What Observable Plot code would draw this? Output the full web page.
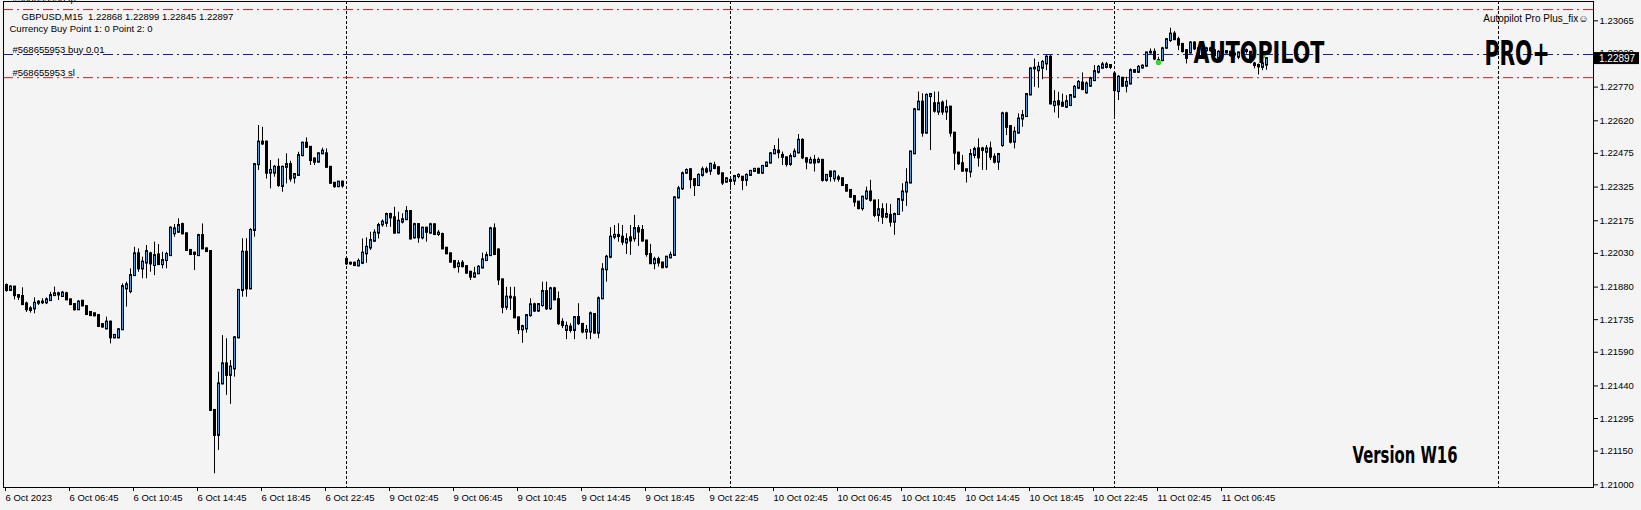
<!DOCTYPE html>
<html>
<head>
<meta charset="utf-8">
<script src="https://cdn.jsdelivr.net/npm/d3@7"></script>
<script src="https://cdn.jsdelivr.net/npm/@observablehq/plot@0.6"></script>
<style>
  html, body { margin: 0; padding: 0; background: #f4f4f4; }
  #chart svg { display: block; }
</style>
</head>
<body>
<div id="chart"></div>
<script>
// ---- Data: GBPUSD M15 candles (bar index 0 = 6 Oct 2023 02:45) ----
const open = [
1.21887,1.21865,1.21880,1.21842,1.21838,1.21805,1.21776,1.21783,1.21808,1.21813,
1.21810,1.21820,1.21842,1.21850,1.21838,1.21850,1.21823,1.21802,1.21779,1.21817,
1.21793,1.21767,1.21761,1.21753,1.21713,1.21694,1.21724,1.21654,1.21654,1.21690,
1.21872,1.21860,1.21931,1.22028,1.21961,1.21987,1.22028,1.21976,1.22023,1.21980,
1.21998,1.22020,1.22117,1.22124,1.22158,1.22117,1.22043,1.22025,1.22020,1.22109,
1.22050,1.22038,1.21331,1.21220,1.21449,1.21538,1.21487,1.21516,1.21654,1.21865,
1.22035,1.21872,1.22132,1.22425,1.22525,1.22525,1.22387,1.22387,1.22413,1.22328,
1.22413,1.22425,1.22365,1.22377,1.22465,1.22520,1.22502,1.22450,1.22436,1.22473,
1.22473,1.22413,1.22342,1.22327,1.22347,1.22003,1.21983,1.21986,1.21974,1.21986,
1.22028,1.22054,1.22084,1.22120,1.22157,1.22164,1.22203,1.22188,1.22121,1.22169,
1.22180,1.22216,1.22099,1.22158,1.22099,1.22142,1.22120,1.22157,1.22114,1.22114,
1.22053,1.22028,1.21994,1.21971,1.21986,1.21971,1.21946,1.21924,1.21939,1.21965,
1.21998,1.22020,1.22139,1.22045,1.21912,1.21790,1.21835,1.21832,1.21743,1.21690,
1.21694,1.21753,1.21801,1.21773,1.21798,1.21860,1.21783,1.21872,1.21824,1.21723,
1.21687,1.21702,1.21687,1.21744,1.21714,1.21680,1.21680,1.21758,1.21675,1.21828,
1.21957,1.22013,1.22102,1.22110,1.22102,1.22076,1.22099,1.22095,1.22140,1.22132,
1.22085,1.22025,1.21984,1.22002,1.21987,1.21969,1.22010,1.22021,1.22277,1.22317,
1.22387,1.22402,1.22358,1.22332,1.22377,1.22402,1.22396,1.22420,1.22411,1.22384,
1.22347,1.22355,1.22352,1.22372,1.22369,1.22355,1.22377,1.22395,1.22404,1.22387,
1.22417,1.22432,1.22473,1.22485,1.22466,1.22455,1.22426,1.22461,1.22477,1.22533,
1.22451,1.22432,1.22444,1.22436,1.22444,1.22355,1.22392,1.22362,1.22366,1.22362,
1.22332,1.22310,1.22283,1.22258,1.22229,1.22273,1.22303,1.22263,1.22199,1.22224,
1.22191,1.22199,1.22169,1.22203,1.22266,1.22303,1.22343,1.22473,1.22669,1.22703,
1.22565,1.22728,1.22696,1.22659,1.22699,1.22659,1.22681,1.22565,1.22476,1.22429,
1.22396,1.22392,1.22466,1.22495,1.22488,1.22480,1.22495,1.22458,1.22436,1.22510,
1.22651,1.22594,1.22525,1.22565,1.22628,1.22639,1.22735,1.22851,1.22843,1.22854,
1.22873,1.22903,1.22688,1.22705,1.22698,1.22680,1.22688,1.22725,1.22765,1.22788,
1.22744,1.22774,1.22799,1.22836,1.22854,1.22858,1.22866,1.22828,1.22750,1.22809,
1.22774,1.22784,1.22843,1.22836,1.22855,1.22863,1.22922,1.22925,1.22888,1.22888,
1.22943,1.22977,1.23006,1.22981,1.22960,1.22932,1.22922,1.22966,1.22910,1.22940,
1.22932,1.22940,1.22932,1.22898,1.22925,1.22928,1.22925,1.22913,1.22903,1.22922,
1.22928,1.22925,1.22873,1.22866,1.22858,1.22868];
const high = [
1.21894,1.21887,1.21880,1.21846,1.21877,1.21813,1.21793,1.21832,1.21820,1.21828,
1.21832,1.21857,1.21880,1.21857,1.21860,1.21857,1.21826,1.21805,1.21820,1.21820,
1.21796,1.21770,1.21764,1.21756,1.21716,1.21746,1.21728,1.21668,1.21694,1.21894,
1.21902,1.21961,1.22057,1.22050,1.22013,1.22065,1.22035,1.22080,1.22069,1.22035,
1.22035,1.22148,1.22158,1.22184,1.22165,1.22120,1.22046,1.22035,1.22115,1.22161,
1.22053,1.22041,1.21335,1.21501,1.21664,1.21650,1.21553,1.21660,1.21870,1.22095,
1.22095,1.22140,1.22430,1.22599,1.22591,1.22530,1.22443,1.22421,1.22450,1.22418,
1.22473,1.22440,1.22385,1.22480,1.22525,1.22544,1.22505,1.22455,1.22477,1.22498,
1.22495,1.22416,1.22345,1.22350,1.22352,1.22013,1.21991,1.21991,1.22005,1.22094,
1.22099,1.22124,1.22135,1.22164,1.22179,1.22209,1.22209,1.22235,1.22213,1.22206,
1.22238,1.22220,1.22164,1.22161,1.22146,1.22146,1.22164,1.22161,1.22132,1.22120,
1.22055,1.22031,1.21997,1.21998,1.21998,1.21975,1.21950,1.21968,1.21976,1.22031,
1.22035,1.22146,1.22161,1.22050,1.21915,1.21879,1.21879,1.21879,1.21746,1.21710,
1.21758,1.21828,1.21808,1.21806,1.21902,1.21902,1.21879,1.21879,1.21858,1.21739,
1.21724,1.21717,1.21749,1.21806,1.21717,1.21709,1.21769,1.21761,1.21836,1.21984,
1.22021,1.22144,1.22154,1.22162,1.22154,1.22117,1.22154,1.22199,1.22154,1.22154,
1.22088,1.22070,1.22013,1.22013,1.21990,1.22016,1.22036,1.22282,1.22328,1.22392,
1.22406,1.22406,1.22361,1.22384,1.22414,1.22414,1.22432,1.22436,1.22414,1.22387,
1.22366,1.22366,1.22377,1.22384,1.22372,1.22384,1.22399,1.22406,1.22409,1.22420,
1.22436,1.22478,1.22510,1.22540,1.22481,1.22460,1.22473,1.22495,1.22559,1.22540,
1.22455,1.22458,1.22466,1.22455,1.22448,1.22381,1.22396,1.22396,1.22377,1.22366,
1.22336,1.22313,1.22286,1.22261,1.22284,1.22325,1.22355,1.22266,1.22269,1.22251,
1.22251,1.22248,1.22209,1.22273,1.22340,1.22407,1.22485,1.22675,1.22748,1.22740,
1.22740,1.22740,1.22748,1.22748,1.22708,1.22711,1.22684,1.22568,1.22480,1.22466,
1.22405,1.22492,1.22503,1.22540,1.22502,1.22510,1.22525,1.22473,1.22475,1.22658,
1.22658,1.22597,1.22591,1.22651,1.22666,1.22740,1.22855,1.22895,1.22880,1.22888,
1.22910,1.22910,1.22754,1.22747,1.22739,1.22732,1.22735,1.22777,1.22799,1.22833,
1.22794,1.22814,1.22866,1.22866,1.22880,1.22880,1.22866,1.22836,1.22821,1.22814,
1.22814,1.22851,1.22848,1.22866,1.22869,1.22925,1.22940,1.22940,1.22903,1.22947,
1.22984,1.23032,1.23017,1.22992,1.22963,1.22935,1.22972,1.22972,1.22947,1.22947,
1.22947,1.22947,1.22940,1.22932,1.22932,1.22932,1.22930,1.22925,1.22925,1.22940,
1.22940,1.22928,1.22880,1.22873,1.22880,1.22899];
const low = [
1.21857,1.21862,1.21823,1.21820,1.21798,1.21767,1.21764,1.21761,1.21798,1.21802,
1.21802,1.21817,1.21838,1.21820,1.21835,1.21820,1.21798,1.21773,1.21776,1.21793,
1.21753,1.21750,1.21748,1.21700,1.21698,1.21690,1.21627,1.21650,1.21650,1.21687,
1.21791,1.21850,1.21928,1.21946,1.21917,1.21917,1.21946,1.21931,1.21976,1.21961,
1.21961,1.22016,1.22102,1.22120,1.22112,1.22040,1.22020,1.21954,1.22016,1.22046,
1.22034,1.21328,1.21049,1.21153,1.21445,1.21398,1.21358,1.21479,1.21650,1.21835,
1.21835,1.21868,1.22102,1.22399,1.22510,1.22361,1.22317,1.22369,1.22324,1.22302,
1.22339,1.22347,1.22339,1.22373,1.22460,1.22498,1.22421,1.22421,1.22432,1.22470,
1.22410,1.22338,1.22320,1.22322,1.22320,1.21976,1.21976,1.21971,1.21971,1.21980,
1.21986,1.22043,1.22080,1.22094,1.22146,1.22146,1.22146,1.22117,1.22120,1.22161,
1.22176,1.22090,1.22094,1.22075,1.22090,1.22080,1.22117,1.22109,1.22105,1.22046,
1.22025,1.21988,1.21961,1.21942,1.21965,1.21938,1.21909,1.21921,1.21936,1.21961,
1.21995,1.22016,1.22020,1.21887,1.21761,1.21776,1.21776,1.21740,1.21669,1.21630,
1.21675,1.21746,1.21768,1.21768,1.21790,1.21776,1.21776,1.21820,1.21709,1.21695,
1.21646,1.21675,1.21646,1.21709,1.21672,1.21646,1.21646,1.21672,1.21650,1.21824,
1.21902,1.22006,1.22091,1.22080,1.22065,1.22025,1.22021,1.22080,1.22061,1.22080,
1.22013,1.21981,1.21957,1.21969,1.21962,1.21962,1.22006,1.22016,1.22272,1.22310,
1.22381,1.22317,1.22283,1.22328,1.22369,1.22384,1.22377,1.22402,1.22377,1.22332,
1.22343,1.22310,1.22332,1.22362,1.22310,1.22328,1.22372,1.22392,1.22384,1.22381,
1.22414,1.22428,1.22470,1.22451,1.22421,1.22414,1.22417,1.22455,1.22473,1.22447,
1.22402,1.22429,1.22392,1.22429,1.22347,1.22347,1.22347,1.22347,1.22347,1.22328,
1.22303,1.22276,1.22236,1.22224,1.22218,1.22266,1.22258,1.22189,1.22169,1.22159,
1.22184,1.22147,1.22110,1.22199,1.22214,1.22239,1.22340,1.22470,1.22666,1.22547,
1.22562,1.22488,1.22654,1.22644,1.22644,1.22622,1.22547,1.22399,1.22421,1.22392,
1.22343,1.22366,1.22451,1.22414,1.22399,1.22399,1.22443,1.22428,1.22399,1.22502,
1.22554,1.22517,1.22495,1.22562,1.22591,1.22636,1.22732,1.22769,1.22765,1.22803,
1.22843,1.22691,1.22655,1.22631,1.22680,1.22676,1.22685,1.22720,1.22759,1.22754,
1.22739,1.22769,1.22794,1.22828,1.22851,1.22851,1.22848,1.22640,1.22710,1.22769,
1.22744,1.22780,1.22833,1.22831,1.22851,1.22860,1.22917,1.22888,1.22873,1.22883,
1.22940,1.22969,1.22977,1.22932,1.22922,1.22873,1.22917,1.22932,1.22898,1.22898,
1.22925,1.22925,1.22906,1.22895,1.22913,1.22917,1.22903,1.22898,1.22892,1.22917,
1.22917,1.22873,1.22851,1.22824,1.22843,1.22845];
const close = [
1.21865,1.21880,1.21842,1.21835,1.21802,1.21779,1.21783,1.21808,1.21813,1.21810,
1.21823,1.21842,1.21850,1.21845,1.21853,1.21823,1.21802,1.21779,1.21813,1.21796,
1.21758,1.21753,1.21752,1.21705,1.21702,1.21724,1.21654,1.21665,1.21690,1.21882,
1.21890,1.21931,1.22028,1.21961,1.21991,1.22038,1.21983,1.22020,1.21980,1.21998,
1.22025,1.22142,1.22139,1.22154,1.22117,1.22043,1.22025,1.22031,1.22109,1.22050,
1.22038,1.21331,1.21220,1.21449,1.21538,1.21487,1.21524,1.21654,1.21865,1.22035,
1.21872,1.22132,1.22425,1.22525,1.22517,1.22387,1.22399,1.22413,1.22332,1.22413,
1.22425,1.22361,1.22381,1.22465,1.22520,1.22502,1.22443,1.22436,1.22473,1.22485,
1.22413,1.22342,1.22327,1.22347,1.22330,1.21983,1.21986,1.21976,1.21994,1.22031,
1.22057,1.22087,1.22120,1.22154,1.22169,1.22203,1.22188,1.22120,1.22173,1.22180,
1.22216,1.22094,1.22158,1.22099,1.22142,1.22124,1.22157,1.22114,1.22120,1.22050,
1.22028,1.21991,1.21968,1.21983,1.21971,1.21942,1.21924,1.21939,1.21968,1.22001,
1.22020,1.22139,1.22025,1.21912,1.21790,1.21835,1.21832,1.21743,1.21690,1.21704,
1.21753,1.21801,1.21773,1.21802,1.21860,1.21783,1.21872,1.21823,1.21717,1.21709,
1.21705,1.21687,1.21744,1.21717,1.21680,1.21687,1.21761,1.21675,1.21828,1.21957,
1.22013,1.22102,1.22110,1.22105,1.22080,1.22091,1.22085,1.22140,1.22125,1.22085,
1.22025,1.21984,1.22002,1.21987,1.21966,1.22013,1.22021,1.22277,1.22317,1.22384,
1.22399,1.22358,1.22332,1.22377,1.22402,1.22392,1.22426,1.22408,1.22384,1.22343,
1.22362,1.22350,1.22372,1.22377,1.22355,1.22377,1.22395,1.22404,1.22387,1.22417,
1.22432,1.22473,1.22488,1.22478,1.22458,1.22426,1.22461,1.22481,1.22533,1.22455,
1.22436,1.22444,1.22432,1.22444,1.22355,1.22377,1.22372,1.22392,1.22360,1.22332,
1.22307,1.22280,1.22258,1.22229,1.22280,1.22303,1.22266,1.22199,1.22224,1.22191,
1.22203,1.22169,1.22203,1.22269,1.22303,1.22343,1.22481,1.22669,1.22703,1.22565,
1.22733,1.22737,1.22663,1.22696,1.22659,1.22678,1.22565,1.22476,1.22429,1.22396,
1.22402,1.22470,1.22492,1.22455,1.22495,1.22495,1.22458,1.22436,1.22470,1.22651,
1.22591,1.22525,1.22569,1.22628,1.22643,1.22737,1.22851,1.22854,1.22858,1.22880,
1.22903,1.22695,1.22702,1.22691,1.22685,1.22705,1.22732,1.22769,1.22791,1.22759,
1.22784,1.22806,1.22839,1.22858,1.22869,1.22869,1.22858,1.22754,1.22814,1.22774,
1.22791,1.22843,1.22836,1.22858,1.22863,1.22922,1.22925,1.22895,1.22885,1.22940,
1.22981,1.23006,1.22981,1.22957,1.22928,1.22898,1.22966,1.22940,1.22940,1.22903,
1.22940,1.22932,1.22910,1.22925,1.22928,1.22922,1.22910,1.22917,1.22922,1.22928,
1.22932,1.22880,1.22866,1.22860,1.22873,1.22897];

// time axis labels (one every 16 bars)
const xTickBars = [0,16,32,48,64,80,96,112,128,144,160,176,192,208,224,240,256,272,288,304];
const xTickLabels = ["6 Oct 2023","6 Oct 06:45","6 Oct 10:45","6 Oct 14:45","6 Oct 18:45","6 Oct 22:45",
  "9 Oct 02:45","9 Oct 06:45","9 Oct 10:45","9 Oct 14:45","9 Oct 18:45","9 Oct 22:45",
  "10 Oct 02:45","10 Oct 06:45","10 Oct 10:45","10 Oct 14:45","10 Oct 18:45","10 Oct 22:45",
  "11 Oct 02:45","11 Oct 06:45"];
// price axis labels
const yTicks = [1.21000,1.21150,1.21295,1.21440,1.21590,1.21735,1.21880,1.22030,1.22175,1.22325,1.22475,1.22620,1.22770,1.22920,1.23065];
// day separators (bar index of 00:00)
const daySeparators = [85,181,277,373];
// order levels
const tpLevel = 1.23115;
const entryLevel = 1.22915;
const slLevel = 1.22812;
// signal markers
const signalBars = [288,314];
const signalPrices = [1.22880,1.22910];

const symbol = "GBPUSD,M15";
const orderId = "#568655953";

// ---- Build tables ----
const bars = open.map((o,i)=>({i, o, h: high[i], l: low[i], c: close[i]}));
const signals = signalBars.map((b,k)=>({b, p: signalPrices[k]}));
const labelByBar = new Map(xTickBars.map((b,k)=>[b, xTickLabels[k]]));
const last = close.length - 1;
const fmt5 = d3.format(".5f");
const header = `${symbol}  ${fmt5(open[last])} ${fmt5(high[last])} ${fmt5(low[last])} ${fmt5(close[last])}`;

const BULL = "#4d9fdc";
const RED = "#c81e1e";
const NAVY = "#1a1a8c";

const chart = Plot.plot({
  width: 1641,
  height: 510,
  marginLeft: 3,
  marginRight: 48,
  marginTop: 1,
  marginBottom: 23,
  style: {background: "#f4f4f4", fontFamily: "'Liberation Sans', Arial, sans-serif", fontSize: "9.5px", color: "#000", overflow: "visible"},
  x: {type: "linear", domain: [-0.75, 396.75], axis: null},
  y: {domain: [1.20988, 1.23151], axis: null},
  marks: [
    Plot.ruleX(daySeparators, {x: d => d, stroke: "#000", strokeDasharray: "3,2"}),
    Plot.ruleY([tpLevel], {stroke: RED, strokeDasharray: "10,4,2,4"}),
    Plot.ruleY([slLevel], {stroke: RED, strokeDasharray: "10,4,2,4"}),
    Plot.ruleY([entryLevel], {stroke: NAVY, strokeDasharray: "10,4,2,4"}),
    Plot.text([`${orderId} tp`], {y: [tpLevel], frameAnchor: "left", dx: 9, dy: -11, textAnchor: "start", fill: "#000"}),
    Plot.text([`${orderId} buy 0.01`], {y: [entryLevel], frameAnchor: "left", dx: 9, dy: -5, textAnchor: "start", fill: "#000"}),
    Plot.text([`${orderId} sl`], {y: [slLevel], frameAnchor: "left", dx: 9, dy: -5, textAnchor: "start", fill: "#000"}),
    // wicks
    Plot.ruleX(bars, {x: "i", y1: "l", y2: "h", stroke: "#000", strokeWidth: 1}),
    // bodies
    Plot.rect(bars, {
      x1: d => d.i - 0.25, x2: d => d.i + 0.25,
      y1: "o", y2: "c",
      fill: d => d.c >= d.o ? BULL : "#000",
      stroke: "#000", strokeWidth: 1,
      insetTop: -0.5, insetBottom: -0.5,
      dx: 0.5
    }),
    Plot.dot(signals, {x: "b", y: "p", r: 2.5, fill: "#2ee02e", stroke: "#1bb51b", strokeWidth: 0.5}),
    Plot.frame({stroke: "#000"}),
    Plot.axisY(yTicks, {anchor: "right", tickSize: 4, tickPadding: 2, tickFormat: fmt5, fill: "#000", stroke: "#000"}),
    Plot.axisX(xTickBars, {anchor: "bottom", tickSize: 4, tickPadding: 3, tickFormat: d => labelByBar.get(d), textAnchor: "start", dx: -1, fill: "#000", stroke: "#000"}),
    // overlay texts
    Plot.text([header], {frameAnchor: "top-left", dx: 18, dy: 12, textAnchor: "start", fill: "#000"}),
    Plot.text(["Currency Buy Point 1: 0 Point 2: 0"], {frameAnchor: "top-left", dx: 6, dy: 24, textAnchor: "start", fill: "#000"}),
    Plot.text(["Autopilot Pro Plus_fix\u263A"], {frameAnchor: "top-right", dx: -5, dy: 13, textAnchor: "end", fill: "#000", fontSize: 10}),
    Plot.text(["AUTOPILOT"], {frameAnchor: "top-left", dx: 1190, dy: 39, textAnchor: "start", fill: "#000", fontSize: 31, fontWeight: "bold", fontFamily: "'DejaVu Sans', sans-serif"}),
    Plot.text(["PRO+"], {frameAnchor: "top-left", dx: 1481, dy: 40.5, textAnchor: "start", fill: "#000", fontSize: 33, fontWeight: "bold", fontFamily: "'DejaVu Sans', sans-serif"}),
    Plot.text(["Version W16"], {frameAnchor: "top-left", dx: 1349, dy: 445.5, textAnchor: "start", fill: "#000", fontSize: 23, fontWeight: "bold", fontFamily: "'DejaVu Sans', sans-serif"})
  ]
});

// condensed (Impact-like) headline texts
const squeeze = {"AUTOPILOT": 131, "PRO+": 65, "Version W16": 105};
d3.select(chart).selectAll("text").each(function() {
  const t = this.textContent;
  if (squeeze[t]) d3.select(this).attr("textLength", squeeze[t]).attr("lengthAdjust", "spacingAndGlyphs");
});

// current price box on the price axis
const ys = chart.scale("y");
const xs = chart.scale("x");
const yc = ys.apply(close[last]);
const xr = xs.range[1];
const g = d3.select(chart).append("g").attr("text-anchor", "start");
g.append("rect").attr("x", xr + 1).attr("y", yc - 6).attr("width", 45).attr("height", 12).attr("fill", "#000");
g.append("text").attr("x", xr + 6).attr("y", yc).attr("dy", "0.35em").attr("fill", "#fff")
  .attr("text-anchor", "start")
  .attr("font-family", "'Liberation Sans', Arial, sans-serif").attr("font-size", "10px").text(fmt5(close[last]));

document.getElementById("chart").appendChild(chart);
</script>
</body>
</html>
